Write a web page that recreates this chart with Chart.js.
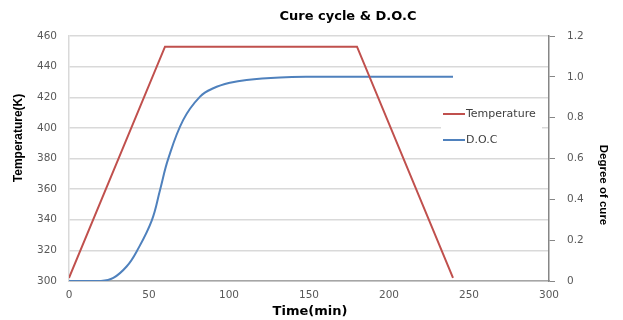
<!DOCTYPE html>
<html>
<head>
<meta charset="utf-8">
<script src="https://cdn.jsdelivr.net/npm/chart.js@4/dist/chart.umd.min.js"></script>
<style>
    html, body { margin: 0; padding: 0; background: #fff; }
    #wrap { width: 623px; height: 320px; }
</style>
</head>
<body>
<div id="wrap"><canvas id="cureChart" width="623" height="320"></canvas></div>
<script>
// Temperature cycle (time in min, temperature in K)
const tempTime = [0, 60, 180, 240];
const tempValues = [302, 453, 453, 302];

// Degree of cure
const docTime = [0, 20, 27.7, 36, 42.3, 51.7, 56.9, 62, 71.4, 81.9, 90.2, 100.6, 111, 131.9, 150, 200, 240];
const docValues = [0, 0, 0.015, 0.071, 0.145, 0.296, 0.446, 0.598, 0.789, 0.903, 0.944, 0.971, 0.985, 0.997, 1.0, 1.0, 1.0];

const seriesLabels = ['Temperature', 'D.O.C'];
const seriesColors = ['#c0504d', '#4f81bd'];

const chartTitle = 'Cure cycle & D.O.C';
const xTitle = 'Time(min)';
const yTitle = 'Temperature(K)';
const y1Title = 'Degree of cure';

const wideFont = '"DejaVu Sans", Verdana, sans-serif';
const narrowFont = '"Liberation Sans", Arial, sans-serif';

function toPoints(xs, ys) {
    return xs.map((x, i) => ({ x: x, y: ys[i] }));
}

// legend inside the plot + titles placed like the original
const extras = {
    id: 'extras',
    afterDraw(chart) {
        const ctx = chart.ctx;
        ctx.save();

        // legend
        ctx.fillStyle = '#fff';
        ctx.fillRect(441, 101, 101, 52);
        ctx.font = '11px ' + wideFont;
        ctx.textBaseline = 'middle';
        ctx.textAlign = 'left';
        chart.data.datasets.forEach((ds, i) => {
            const y = 114 + i * 26;
            ctx.strokeStyle = ds.borderColor;
            ctx.lineWidth = 2;
            ctx.beginPath();
            ctx.moveTo(443, y);
            ctx.lineTo(465, y);
            ctx.stroke();
            ctx.fillStyle = '#404040';
            ctx.fillText(ds.label, 466, y);
        });

        // titles
        ctx.fillStyle = '#000';
        ctx.textAlign = 'center';
        ctx.font = 'bold 13px ' + wideFont;
        ctx.fillText(chartTitle, 348, 17);
        ctx.fillText(xTitle, 310, 312);

        ctx.font = 'bold 12px ' + narrowFont;
        ctx.translate(19, 138);
        ctx.rotate(-Math.PI / 2);
        ctx.fillText(yTitle, 0, 0);
        ctx.setTransform(1, 0, 0, 1, 0, 0);

        ctx.font = 'bold 11.5px ' + narrowFont;
        ctx.translate(603, 185);
        ctx.rotate(Math.PI / 2);
        ctx.fillText(y1Title, 0, 0);
        ctx.restore();
    }
};

const ctx = document.getElementById('cureChart').getContext('2d');
new Chart(ctx, {
    type: 'scatter',
    data: {
        datasets: [
            {
                label: seriesLabels[0],
                data: toPoints(tempTime, tempValues),
                showLine: true,
                borderColor: seriesColors[0],
                borderWidth: 2,
                pointRadius: 0,
                yAxisID: 'y'
            },
            {
                label: seriesLabels[1],
                data: toPoints(docTime, docValues),
                showLine: true,
                borderColor: seriesColors[1],
                borderWidth: 2,
                pointRadius: 0,
                tension: 0.4,
                yAxisID: 'y1'
            }
        ]
    },
    options: {
        responsive: false,
        animation: false,
        layout: { padding: { top: 36, left: 0, right: 0, bottom: 0 } },
        plugins: {
            legend: { display: false },
            tooltip: { enabled: false },
            title: { display: false }
        },
        scales: {
            x: {
                type: 'linear',
                min: 0,
                max: 300,
                ticks: {
                    stepSize: 50,
                    padding: 8,
                    color: '#595959',
                    font: { family: wideFont, size: 10.5 }
                },
                grid: { drawOnChartArea: false, drawTicks: false },
                border: { color: '#a6a6a6', width: 1.5 },
                afterFit(scale) { scale.height = 39; }
            },
            y: {
                position: 'left',
                min: 300,
                max: 460,
                ticks: {
                    stepSize: 20,
                    padding: 12,
                    color: '#595959',
                    font: { family: wideFont, size: 10.5 }
                },
                grid: { color: '#d9d9d9', lineWidth: 1.5, drawTicks: false },
                border: { color: '#d9d9d9', width: 1.5 },
                afterFit(scale) { scale.width = 69; }
            },
            y1: {
                position: 'right',
                min: 0,
                max: 1.2,
                ticks: {
                    stepSize: 0.2,
                    padding: 12,
                    color: '#595959',
                    font: { family: wideFont, size: 10.5 }
                },
                grid: { drawOnChartArea: false, tickLength: 6, color: '#868686' },
                border: { color: '#868686', width: 1.5 },
                afterFit(scale) { scale.width = 74; }
            }
        }
    },
    plugins: [extras]
});
</script>
</body>
</html>
